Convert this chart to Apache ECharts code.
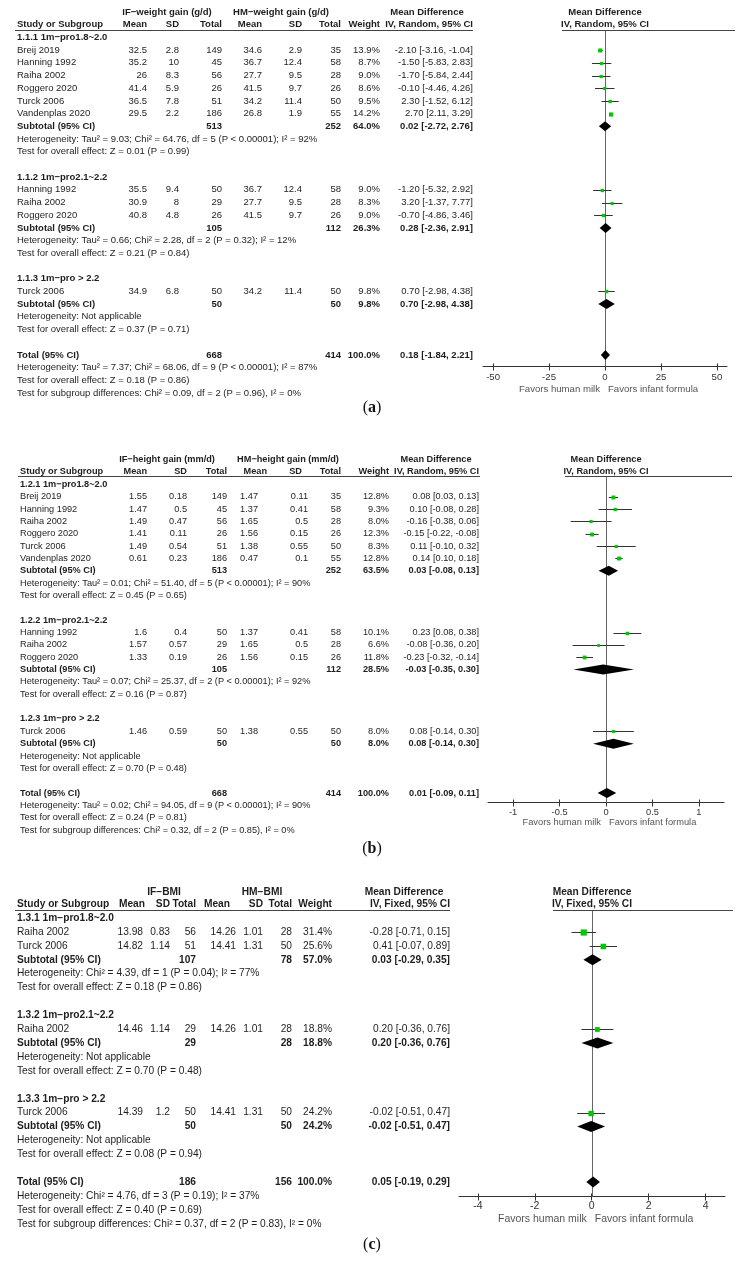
<!DOCTYPE html>
<html><head><meta charset="utf-8">
<script src="https://cdn.jsdelivr.net/npm/echarts@6/dist/echarts.min.js"></script>
<style>html,body{margin:0;padding:0;background:#fff}#c{width:744px;height:1262px}</style>
</head><body><div id="c"></div>
<script>
// ---------------- DATA ----------------
const ticksA = [-50, -25, 0, 25, 50];
const ticksB = [-1, -0.5, 0, 0.5, 1];
const ticksC = [-4, -2, 0, 2, 4];

const groupsA = ['1.1.1 1m−pro1.8~2.0', '1.1.2 1m−pro2.1~2.2', '1.1.3 1m−pro > 2.2'];
// [study, group, IF mean, IF SD, IF total, HM mean, HM SD, HM total, weight %, MD, lower, upper]
const studiesA = [
  ['Breij 2019', 0, 32.5, 2.8, 149, 34.6, 2.9, 35, 13.9, -2.10, -3.16, -1.04],
  ['Hanning 1992', 0, 35.2, 10, 45, 36.7, 12.4, 58, 8.7, -1.50, -5.83, 2.83],
  ['Raiha 2002', 0, 26, 8.3, 56, 27.7, 9.5, 28, 9.0, -1.70, -5.84, 2.44],
  ['Roggero 2020', 0, 41.4, 5.9, 26, 41.5, 9.7, 26, 8.6, -0.10, -4.46, 4.26],
  ['Turck 2006', 0, 36.5, 7.8, 51, 34.2, 11.4, 50, 9.5, 2.30, -1.52, 6.12],
  ['Vandenplas 2020', 0, 29.5, 2.2, 186, 26.8, 1.9, 55, 14.2, 2.70, 2.11, 3.29],
  ['Hanning 1992', 1, 35.5, 9.4, 50, 36.7, 12.4, 58, 9.0, -1.20, -5.32, 2.92],
  ['Raiha 2002', 1, 30.9, 8, 29, 27.7, 9.5, 28, 8.3, 3.20, -1.37, 7.77],
  ['Roggero 2020', 1, 40.8, 4.8, 26, 41.5, 9.7, 26, 9.0, -0.70, -4.86, 3.46],
  ['Turck 2006', 2, 34.9, 6.8, 50, 34.2, 11.4, 50, 9.8, 0.70, -2.98, 4.38]
];
// [IF total, HM total, weight %, MD, lower, upper]
const subtotalsA = [[513, 252, 64.0, 0.02, -2.72, 2.76], [105, 112, 26.3, 0.28, -2.36, 2.91], [50, 50, 9.8, 0.70, -2.98, 4.38]];
const totalA = [668, 414, 100.0, 0.18, -1.84, 2.21];
const hetA = ['Heterogeneity: Tau² = 9.03; Chi² = 64.76, df = 5 (P < 0.00001); I² = 92%',
  'Heterogeneity: Tau² = 0.66; Chi² = 2.28, df = 2 (P = 0.32); I² = 12%',
  'Heterogeneity: Not applicable'];
const testA = ['Test for overall effect: Z = 0.01 (P = 0.99)', 'Test for overall effect: Z = 0.21 (P = 0.84)', 'Test for overall effect: Z = 0.37 (P = 0.71)'];
const totalNotesA = ['Heterogeneity: Tau² = 7.37; Chi² = 68.06, df = 9 (P < 0.00001); I² = 87%',
  'Test for overall effect: Z = 0.18 (P = 0.86)',
  'Test for subgroup differences: Chi² = 0.09, df = 2 (P = 0.96), I² = 0%'];

const groupsB = ['1.2.1 1m−pro1.8~2.0', '1.2.2 1m−pro2.1~2.2', '1.2.3 1m−pro > 2.2'];
const studiesB = [
  ['Breij 2019', 0, 1.55, 0.18, 149, 1.47, 0.11, 35, 12.8, 0.08, 0.03, 0.13],
  ['Hanning 1992', 0, 1.47, 0.5, 45, 1.37, 0.41, 58, 9.3, 0.10, -0.08, 0.28],
  ['Raiha 2002', 0, 1.49, 0.47, 56, 1.65, 0.5, 28, 8.0, -0.16, -0.38, 0.06],
  ['Roggero 2020', 0, 1.41, 0.11, 26, 1.56, 0.15, 26, 12.3, -0.15, -0.22, -0.08],
  ['Turck 2006', 0, 1.49, 0.54, 51, 1.38, 0.55, 50, 8.3, 0.11, -0.10, 0.32],
  ['Vandenplas 2020', 0, 0.61, 0.23, 186, 0.47, 0.1, 55, 12.8, 0.14, 0.10, 0.18],
  ['Hanning 1992', 1, 1.6, 0.4, 50, 1.37, 0.41, 58, 10.1, 0.23, 0.08, 0.38],
  ['Raiha 2002', 1, 1.57, 0.57, 29, 1.65, 0.5, 28, 6.6, -0.08, -0.36, 0.20],
  ['Roggero 2020', 1, 1.33, 0.19, 26, 1.56, 0.15, 26, 11.8, -0.23, -0.32, -0.14],
  ['Turck 2006', 2, 1.46, 0.59, 50, 1.38, 0.55, 50, 8.0, 0.08, -0.14, 0.30]
];
const subtotalsB = [[513, 252, 63.5, 0.03, -0.08, 0.13], [105, 112, 28.5, -0.03, -0.35, 0.30], [50, 50, 8.0, 0.08, -0.14, 0.30]];
const totalB = [668, 414, 100.0, 0.01, -0.09, 0.11];
const hetB = ['Heterogeneity: Tau² = 0.01; Chi² = 51.40, df = 5 (P < 0.00001); I² = 90%',
  'Heterogeneity: Tau² = 0.07; Chi² = 25.37, df = 2 (P < 0.00001); I² = 92%',
  'Heterogeneity: Not applicable'];
const testB = ['Test for overall effect: Z = 0.45 (P = 0.65)', 'Test for overall effect: Z = 0.16 (P = 0.87)', 'Test for overall effect: Z = 0.70 (P = 0.48)'];
const totalNotesB = ['Heterogeneity: Tau² = 0.02; Chi² = 94.05, df = 9 (P < 0.00001); I² = 90%',
  'Test for overall effect: Z = 0.24 (P = 0.81)',
  'Test for subgroup differences: Chi² = 0.32, df = 2 (P = 0.85), I² = 0%'];

const groupsC = ['1.3.1 1m−pro1.8~2.0', '1.3.2 1m−pro2.1~2.2', '1.3.3 1m−pro > 2.2'];
const studiesC = [
  ['Raiha 2002', 0, 13.98, 0.83, 56, 14.26, 1.01, 28, 31.4, -0.28, -0.71, 0.15],
  ['Turck 2006', 0, 14.82, 1.14, 51, 14.41, 1.31, 50, 25.6, 0.41, -0.07, 0.89],
  ['Raiha 2002', 1, 14.46, 1.14, 29, 14.26, 1.01, 28, 18.8, 0.20, -0.36, 0.76],
  ['Turck 2006', 2, 14.39, 1.2, 50, 14.41, 1.31, 50, 24.2, -0.02, -0.51, 0.47]
];
const subtotalsC = [[107, 78, 57.0, 0.03, -0.29, 0.35], [29, 28, 18.8, 0.20, -0.36, 0.76], [50, 50, 24.2, -0.02, -0.51, 0.47]];
const totalC = [186, 156, 100.0, 0.05, -0.19, 0.29];
const hetC = ['Heterogeneity: Chi² = 4.39, df = 1 (P = 0.04); I² = 77%', 'Heterogeneity: Not applicable', 'Heterogeneity: Not applicable'];
const testC = ['Test for overall effect: Z = 0.18 (P = 0.86)', 'Test for overall effect: Z = 0.70 (P = 0.48)', 'Test for overall effect: Z = 0.08 (P = 0.94)'];
const totalNotesC = ['Heterogeneity: Chi² = 4.76, df = 3 (P = 0.19); I² = 37%',
  'Test for overall effect: Z = 0.40 (P = 0.69)',
  'Test for subgroup differences: Chi² = 0.37, df = 2 (P = 0.83), I² = 0%'];

const colHeads = ['Mean', 'SD', 'Total', 'Mean', 'SD', 'Total', 'Weight'];
const favorsLeft = 'Favors human milk';
const favorsRight = 'Favors infant formula';

// ---------------- LAYOUT ----------------
const layouts = [
  { font: 9.5, axFont: 9.6, rowH: 12.7, r0: 37.4, h1: 12, h2: 24.5, lineY: 30.5, axisY: 366.5, labMargin: 5.5, favY: 389, labelY: 408,
    studyX: 17, cols: [147, 179, 222, 262, 302, 341, 380], colsHead: [147, 179, 222, 262, 302, 341, 380],
    mdX: 473, mdHeadX: 427, ifHeadX: 167, hmHeadX: 281, plotHeadX: 605, line1: [15, 473], line2: [562, 735],
    gridL: 483, gridR: 727, xMin: -54.5, xMax: 54.5, dH: 10, sqK: 1.1 },
  { font: 9.2, axFont: 9.3, rowH: 12.35, r0: 484.3, h1: 459, h2: 471.5, lineY: 476.5, axisY: 802.5, labMargin: 5, favY: 822, labelY: 849,
    studyX: 20, cols: [147, 187, 227, 258, 308, 341, 389], colsHead: [147, 187, 227, 267, 302, 341, 389],
    mdX: 479, mdHeadX: 436, ifHeadX: 167, hmHeadX: 288, plotHeadX: 606, line1: [18, 480], line2: [565, 732],
    gridL: 488, gridR: 724, xMin: -1.27, xMax: 1.27, dH: 10, sqK: 1.1 },
  { font: 10.2, axFont: 10.5, rowH: 13.9, r0: 918, h1: 892, h2: 904.5, lineY: 910.5, axisY: 1196.5, labMargin: 4.5, favY: 1219, labelY: 1245,
    studyX: 17, cols: [143, 170, 196, 236, 263, 292, 332], colsHead: [145, 170, 196, 230, 263, 292, 332],
    mdX: 450, mdHeadX: 404, ifHeadX: 164, hmHeadX: 262, plotHeadX: 592, line1: [15, 450], line2: [553, 733],
    gridL: 459, gridR: 725, xMin: -4.66, xMax: 4.68, dH: 11, sqK: 1.1 }
];

const panels = [
  { groups: groupsA, studies: studiesA, subs: subtotalsA, total: totalA, het: hetA, test: testA, notes: totalNotesA, ticks: ticksA,
    ifTitle: 'IF−weight gain (g/d)', hmTitle: 'HM−weight gain (g/d)', method: 'IV, Random, 95% CI', label: 'a' },
  { groups: groupsB, studies: studiesB, subs: subtotalsB, total: totalB, het: hetB, test: testB, notes: totalNotesB, ticks: ticksB,
    ifTitle: 'IF−height gain (mm/d)', hmTitle: 'HM−height gain (mm/d)', method: 'IV, Random, 95% CI', label: 'b' },
  { groups: groupsC, studies: studiesC, subs: subtotalsC, total: totalC, het: hetC, test: testC, notes: totalNotesC, ticks: ticksC,
    ifTitle: 'IF−BMI', hmTitle: 'HM−BMI', method: 'IV, Fixed, 95% CI', label: 'c' }
];

const FONT = '"Liberation Sans", Arial, sans-serif';
const TXT = '#1e1e1e';
function txt(x, y, text, size, bold, align, color) {
  return { type: 'text', x: x, y: y, silent: true, z: 10,
    style: { text: text, fill: color || TXT, font: (bold ? 'bold ' : '') + size + 'px ' + FONT,
      textAlign: align || 'left', textVerticalAlign: 'middle', align: align || 'left', verticalAlign: 'middle' } };
}
function hline(x1, x2, y, color) {
  return { type: 'line', silent: true, z: 10, shape: { x1: x1, y1: y, x2: x2, y2: y }, style: { stroke: color || '#444', lineWidth: 1 } };
}
const mdStr = (m, l, h) => `${m.toFixed(2)} [${l.toFixed(2)}, ${h.toFixed(2)}]`;

const option = { animation: false, backgroundColor: '#fff', grid: [], xAxis: [], yAxis: [], series: [], graphic: [] };
const G = option.graphic;

panels.forEach((P, i) => {
  const L = layouts[i];
  const yOf = r => L.r0 + r * L.rowH;
  const studyPts = [], diamondPts = [];
  let r = 0;
  P.groups.forEach((g, gi) => {
    G.push(txt(L.studyX, yOf(r), g, L.font, true));
    r++;
    P.studies.filter(s => s[1] === gi).forEach(s => {
      const y = yOf(r);
      G.push(txt(L.studyX, y, s[0], L.font, false));
      [s[2], s[3], s[4], s[5], s[6], s[7]].forEach((v, k) => G.push(txt(L.cols[k], y, String(v), L.font, false, 'right')));
      G.push(txt(L.cols[6], y, s[8].toFixed(1) + '%', L.font, false, 'right'));
      G.push(txt(L.mdX, y, mdStr(s[9], s[10], s[11]), L.font, false, 'right'));
      studyPts.push([s[9], s[10], s[11], r, s[8]]);
      r++;
    });
    const sb = P.subs[gi], y = yOf(r);
    G.push(txt(L.studyX, y, 'Subtotal (95% CI)', L.font, true));
    G.push(txt(L.cols[2], y, String(sb[0]), L.font, true, 'right'));
    G.push(txt(L.cols[5], y, String(sb[1]), L.font, true, 'right'));
    G.push(txt(L.cols[6], y, sb[2].toFixed(1) + '%', L.font, true, 'right'));
    G.push(txt(L.mdX, y, mdStr(sb[3], sb[4], sb[5]), L.font, true, 'right'));
    diamondPts.push([sb[3], sb[4], sb[5], r]);
    r++;
    G.push(txt(L.studyX, yOf(r), P.het[gi], L.font, false)); r++;
    G.push(txt(L.studyX, yOf(r), P.test[gi], L.font, false)); r++;
    r++;
  });
  const T = P.total, ty = yOf(r);
  G.push(txt(L.studyX, ty, 'Total (95% CI)', L.font, true));
  G.push(txt(L.cols[2], ty, String(T[0]), L.font, true, 'right'));
  G.push(txt(L.cols[5], ty, String(T[1]), L.font, true, 'right'));
  G.push(txt(L.cols[6], ty, T[2].toFixed(1) + '%', L.font, true, 'right'));
  G.push(txt(L.mdX, ty, mdStr(T[3], T[4], T[5]), L.font, true, 'right'));
  diamondPts.push([T[3], T[4], T[5], r]);
  r++;
  P.notes.forEach(n => { G.push(txt(L.studyX, yOf(r), n, L.font, false)); r++; });

  // headers
  G.push(txt(L.ifHeadX, L.h1, P.ifTitle, L.font, true, 'center'));
  G.push(txt(L.hmHeadX, L.h1, P.hmTitle, L.font, true, 'center'));
  G.push(txt(L.mdHeadX, L.h1, 'Mean Difference', L.font, true, 'center'));
  G.push(txt(L.plotHeadX, L.h1, 'Mean Difference', L.font, true, 'center'));
  G.push(txt(L.studyX, L.h2, 'Study or Subgroup', L.font, true));
  colHeads.forEach((h, k) => G.push(txt(L.colsHead[k], L.h2, h, L.font, true, 'right')));
  G.push(txt(L.mdX, L.h2, P.method, L.font, true, 'right'));
  G.push(txt(L.plotHeadX, L.h2, P.method, L.font, true, 'center'));
  G.push(hline(L.line1[0], L.line1[1], L.lineY));
  G.push(hline(L.line2[0], L.line2[1], L.lineY));

  const zeroPx = L.gridL + (0 - L.xMin) / (L.xMax - L.xMin) * (L.gridR - L.gridL);
  G.push(txt(zeroPx - 5, L.favY, favorsLeft, L.axFont, false, 'right', '#555'));
  G.push(txt(zeroPx + 3, L.favY, favorsRight, L.axFont, false, 'left', '#555'));
  G.push({ type: 'text', x: 372, y: L.labelY, silent: true,
    style: { text: '{n|(}{b|' + P.label + '}{n|)}', textAlign: 'center', textVerticalAlign: 'middle', align: 'center', verticalAlign: 'middle',
      rich: { n: { font: '16px "Liberation Serif", "Times New Roman", serif', fill: '#111' },
              b: { font: 'bold 16px "Liberation Serif", "Times New Roman", serif', fill: '#111' } } } });

  const yMin = (L.lineY - L.r0) / L.rowH, yMax = (L.axisY - L.r0) / L.rowH;
  option.grid.push({ left: L.gridL, width: L.gridR - L.gridL, top: L.lineY, height: L.axisY - L.lineY, containLabel: false, outerBoundsMode: 'none' });
  option.xAxis.push({ gridIndex: i, type: 'value', position: 'bottom', min: L.xMin, max: L.xMax, splitLine: { show: false },
    axisLine: { show: true, onZero: false, lineStyle: { color: '#333', width: 1 } },
    axisTick: { show: true, customValues: P.ticks, length: 4, lineStyle: { color: '#333' } },
    axisLabel: { customValues: P.ticks, margin: L.labMargin, fontSize: L.axFont, color: '#333', fontFamily: 'Liberation Sans' } });
  option.xAxis.push({ gridIndex: i, type: 'value', position: 'bottom', min: L.xMin, max: L.xMax, splitLine: { show: false },
    axisLine: { show: false, onZero: false }, axisLabel: { show: false },
    axisTick: { show: true, inside: true, customValues: P.ticks, length: 3, lineStyle: { color: '#333' } } });
  option.yAxis.push({ gridIndex: i, type: 'value', inverse: true, min: yMin, max: yMax, show: false });

  const xi = i * 2;
  option.series.push({ type: 'custom', xAxisIndex: xi, yAxisIndex: i, z: 1, silent: true, data: [[0, yMin, yMax]],
    renderItem: (p, api) => {
      const a = api.coord([api.value(0), api.value(1)]), b = api.coord([api.value(0), api.value(2)]);
      const x = Math.round(a[0]) + 0.5;
      return { type: 'line', shape: { x1: x, y1: a[1], x2: x, y2: b[1] }, style: { stroke: '#666', lineWidth: 1 } };
    } });
  option.series.push({ type: 'custom', xAxisIndex: xi, yAxisIndex: i, z: 3, silent: true, data: studyPts,
    renderItem: (p, api) => {
      const m = api.value(0), lo = api.value(1), hi = api.value(2), rr = api.value(3), w = api.value(4);
      const pl = api.coord([lo, rr]), ph = api.coord([hi, rr]), pm = api.coord([m, rr]);
      const s = L.sqK * Math.sqrt(w);
      const y = Math.round(pm[1]) + 0.5;
      return { type: 'group', children: [
        { type: 'line', shape: { x1: pl[0], y1: y, x2: ph[0], y2: y }, style: { stroke: '#333', lineWidth: 1 } },
        { type: 'rect', shape: { x: pm[0] - s / 2, y: y - s / 2, width: s, height: s }, style: { fill: '#00c800' } }
      ] };
    } });
  option.series.push({ type: 'custom', xAxisIndex: xi, yAxisIndex: i, z: 4, silent: true, data: diamondPts,
    renderItem: (p, api) => {
      const m = api.value(0), lo = api.value(1), hi = api.value(2), rr = api.value(3);
      const pl = api.coord([lo, rr]), ph = api.coord([hi, rr]), pm = api.coord([m, rr]);
      const h = L.dH / 2;
      return { type: 'polygon', shape: { points: [[pl[0], pm[1]], [pm[0], pm[1] - h], [ph[0], pm[1]], [pm[0], pm[1] + h]] },
        style: { fill: '#000' } };
    } });
});

const chart = echarts.init(document.getElementById('c'), null, { renderer: 'canvas' });
chart.setOption(option);
</script></body></html>
